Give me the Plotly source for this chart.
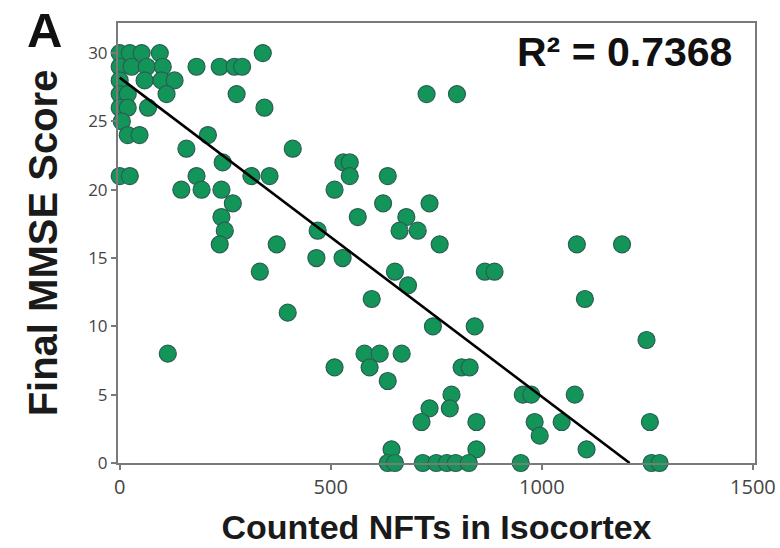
import plotly.graph_objects as go

# (MMSE score, NFT counts)
rows = {
    30: [0, 24, 52, 95, 339],
    29: [0, 28, 64, 102, 182, 237, 272, 290],
    28: [0, 59, 99, 130],
    27: [0, 19, 111, 277, 727, 799],
    26: [0, 19, 67, 343],
    25: [5],
    24: [19, 47, 209],
    23: [158, 410],
    22: [244, 530, 545],
    21: [0, 24, 182, 312, 355, 545, 635],
    20: [146, 194, 241, 509],
    19: [268, 624, 734],
    18: [241, 564, 679],
    17: [249, 469, 663, 706],
    16: [237, 372, 758, 1083, 1190],
    15: [466, 528],
    14: [332, 652, 865, 888],
    13: [683],
    12: [597, 1102],
    11: [398],
    10: [742, 841],
    9: [1248],
    8: [114, 580, 616, 668],
    7: [509, 592, 810, 829],
    6: [635],
    5: [786, 955, 975, 1078],
    4: [734, 782],
    3: [715, 845, 983, 1047, 1256],
    2: [995],
    1: [644, 845, 1106],
    0: [635, 652, 718, 750, 775, 796, 827, 950, 1260, 1279],
}
nft_counts = [x for s, xs in rows.items() for x in xs]
mmse_scores = [s for s, xs in rows.items() for x in xs]

trend_x = [0, 1208]
trend_y = [28.2, 0]

x_ticks = [0, 500, 1000, 1500]
y_ticks = [0, 5, 10, 15, 20, 25, 30]
r2_text = "R² = 0.7368"

fig = go.Figure()
fig.add_trace(go.Scatter(
    x=nft_counts, y=mmse_scores, mode="markers",
    marker=dict(size=17, color="#13955a", line=dict(color="#2a5e52", width=1.2)),
    cliponaxis=False, showlegend=False, hoverinfo="skip",
))
fig.add_trace(go.Scatter(
    x=trend_x, y=trend_y, mode="lines",
    line=dict(color="black", width=2.6),
    cliponaxis=False, showlegend=False, hoverinfo="skip",
))

axis_common = dict(
    showgrid=False, zeroline=False, showline=True, linecolor="#7a7a7a", linewidth=2,
    mirror=True, ticks="outside", ticklen=5, tickcolor="#7a7a7a", tickwidth=1.5,
    automargin=False,
)
fig.update_xaxes(range=[-4, 1505], tickvals=x_ticks, **axis_common,
                 tickfont=dict(family="Open Sans", size=20, color="#444444"),
                 title=dict(text="<b>Counted NFTs in Isocortex</b>",
                            font=dict(family="Liberation Sans", size=34, color="#1a1a1a"),
                            standoff=16))
fig.update_yaxes(range=[0, 32.2], tickvals=y_ticks, **axis_common,
                 tickfont=dict(family="Open Sans", size=17, color="#444444"),
                 title=dict(text="<b>Final MMSE Score</b>",
                            font=dict(family="Liberation Sans", size=40, color="#1a1a1a"),
                            standoff=18))

fig.add_annotation(text="<b>" + r2_text + "</b>", xref="paper", yref="paper",
                   x=0.795, y=0.935, showarrow=False, xanchor="center", yanchor="middle",
                   font=dict(family="Liberation Sans", size=41, color="#111111"),
                   bgcolor="white")
fig.add_annotation(text="<b>A</b>", xref="paper", yref="paper",
                   x=-0.115, y=0.985, showarrow=False, xanchor="center", yanchor="middle",
                   font=dict(family="Liberation Sans", size=49, color="#111111"))

fig.update_layout(
    width=780, height=548, plot_bgcolor="white", paper_bgcolor="white",
    margin=dict(l=118, r=25, t=23, b=85),
)
fig.write_html("out.html", config={"displayModeBar": False},
               post_script="document.body.style.margin='0px';")
